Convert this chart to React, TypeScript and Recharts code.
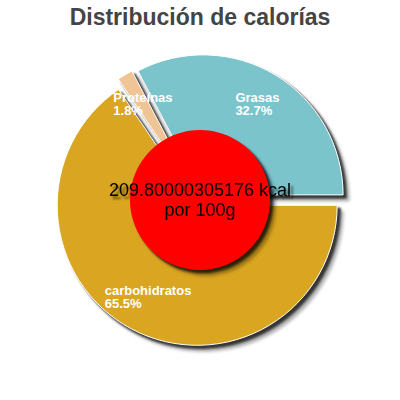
import { PieChart, Pie, Cell, Label } from "recharts";

const LABELS = ["Grasas", "carbohidratos", "Proteínas"];
const VALUES = [32.7, 65.5, 1.8];
const COLORS = ["#7bc4cc", "#daa520", "#f0c595"];
const ENERGY_LINE = "209.80000305176 kcal";
const PER_LINE = "por 100g";
const TITLE = "Distribución de calorías";

const FONT = "'Liberation Sans', Arial, sans-serif";
const START_ANGLE = 117.7;
const CX = 200;
const CY = 200;
const RADIUS = 140;
const SLICE_OFFSET = 6;
const LABEL_RADIUS = 111;

const total = VALUES.reduce((a, b) => a + b, 0);

const slices = LABELS.map((name, i) => {
  const before = VALUES.slice(0, i).reduce((a, b) => a + b, 0);
  const start = START_ANGLE - (before / total) * 360;
  const end = start - (VALUES[i] / total) * 360;
  const rad = (((start + end) / 2) * Math.PI) / 180;
  return {
    name,
    value: VALUES[i],
    color: COLORS[i],
    start,
    end,
    dx: Math.cos(rad) * SLICE_OFFSET,
    dy: -Math.sin(rad) * SLICE_OFFSET,
  };
});

const pieData = slices.map((s) => ({ name: s.name, value: s.value }));

let ctx: CanvasRenderingContext2D | null = null;
function textWidth(s: string) {
  if (!ctx) ctx = document.createElement("canvas").getContext("2d");
  if (!ctx) return s.length * 7;
  ctx.font = `bold 13px ${FONT}`;
  return ctx.measureText(s).width;
}

function renderLabel(props: any) {
  const { cx, cy, midAngle } = props;
  const name = props.name ?? props.payload?.name;
  const value = props.value ?? props.payload?.value;
  const pct = `${Number(value).toFixed(1)}%`;
  const rad = (midAngle * Math.PI) / 180;
  const x = cx + Math.cos(rad) * LABEL_RADIUS;
  const y = cy - Math.sin(rad) * LABEL_RADIUS;
  const w = Math.max(textWidth(name), textWidth(pct));
  const left = x - w / 2;
  return (
    <text
      key={name}
      x={left}
      y={y - 3}
      fill="#fff"
      fontSize={13}
      fontWeight="bold"
      fontFamily={FONT}
    >
      <tspan x={left}>{name}</tspan>
      <tspan x={left} dy={13}>
        {pct}
      </tspan>
    </text>
  );
}

function CenterText(props: any) {
  const vb = props.viewBox ?? {};
  const cx = vb.cx ?? CX;
  const cy = vb.cy ?? CY;
  return (
    <text textAnchor="middle" fontSize={18} fontFamily={FONT} fill="#000">
      <tspan x={cx} y={cy - 4}>
        {ENERGY_LINE}
      </tspan>
      <tspan x={cx} y={cy + 16}>
        {PER_LINE}
      </tspan>
    </text>
  );
}

function SlicePie({ index }: { index: number }) {
  const s = slices[index];
  return (
    <Pie
      data={[pieData[index]]}
      dataKey="value"
      cx={CX + s.dx}
      cy={CY + s.dy}
      outerRadius={RADIUS}
      innerRadius={0}
      startAngle={s.start}
      endAngle={s.end}
      stroke="#fff"
      strokeWidth={1}
      className="shadowed"
      isAnimationActive={false}
    >
      <Cell fill={s.color} />
    </Pie>
  );
}

export default function App() {
  return (
    <div
      style={{
        position: "absolute",
        left: 0,
        top: 0,
        width: 400,
        height: 400,
        background: "#fff",
      }}
    >
      <style>{`.shadowed { filter: drop-shadow(3px 3px 1px rgba(0,0,0,0.55)); }`}</style>
      <div
        style={{
          position: "absolute",
          top: 2,
          left: 0,
          width: 400,
          textAlign: "center",
          fontFamily: FONT,
          fontWeight: "bold",
          fontSize: 23,
          lineHeight: "30px",
          color: "#444",
        }}
      >
        {TITLE}
      </div>
      <PieChart
        width={400}
        height={400}
        margin={{ top: 0, right: 0, bottom: 0, left: 0 }}
      >
        {SlicePie({ index: 0 })}
        {SlicePie({ index: 1 })}
        <Pie
          data={pieData}
          dataKey="value"
          cx={CX}
          cy={CY}
          outerRadius={RADIUS}
          startAngle={START_ANGLE}
          endAngle={START_ANGLE - 360}
          fill="none"
          stroke="none"
          label={renderLabel}
          labelLine={false}
          isAnimationActive={false}
        />
        {SlicePie({ index: 2 })}
        <Pie
          data={[{ name: "kcal", value: 1 }]}
          dataKey="value"
          cx={CX}
          cy={CY}
          outerRadius={70}
          startAngle={90}
          endAngle={-270}
          fill="#ff0000"
          stroke="none"
          className="shadowed"
          isAnimationActive={false}
        >
          <Label position="center" content={<CenterText />} />
        </Pie>
      </PieChart>
    </div>
  );
}
